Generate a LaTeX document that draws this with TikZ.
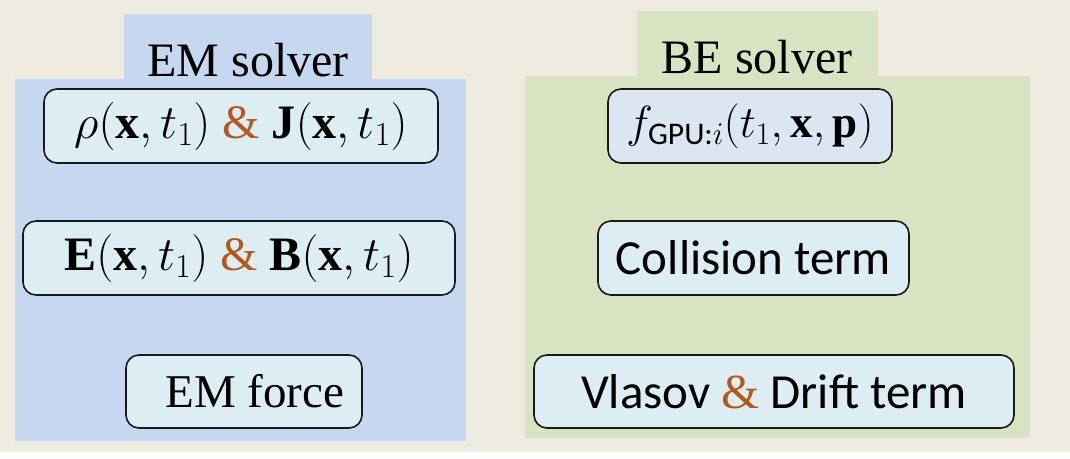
\RequirePackage{fix-cm}
\documentclass[tikz,border=0pt]{standalone}
\usepackage{amsmath}
\usepackage{fontspec}
\setmainfont{Liberation Serif}
\newfontfamily\termfont{Carlito}
\usetikzlibrary{positioning}
\definecolor{bgbeige}{HTML}{EEEBE0}
\definecolor{emblue}{HTML}{C6D8EF}
\definecolor{begreen}{HTML}{D8E4C1}
\definecolor{boxcyan}{HTML}{DCEEF4}
\definecolor{boxlav}{HTML}{DCE5F2}
\definecolor{ampbrown}{HTML}{B4581C}
\newcommand{\amp}{\textcolor{ampbrown}{\rmfamily\&}}

\begin{document}
\begin{tikzpicture}[x=1pt,y=-1pt,
    termbox/.style={draw=black!90, line width=1.6pt, rounded corners=13pt,
        fill=boxcyan, inner sep=0pt, minimum height=74pt},
    title/.style={font=\fontsize{48}{54}\selectfont, anchor=base},
    mathtext/.style={font=\fontsize{48}{54}\selectfont},
    serifterm/.style={font=\fontsize{47}{52}\selectfont},
    sansterm/.style={font=\termfont\fontsize{49}{54}\selectfont}]

\useasboundingbox (0,0) rectangle (1070,458);
\fill[bgbeige] (0,0) rectangle (1070,452);
\fill[white] (0,452) rectangle (1070,458);

% EM solver
\fill[emblue] (15,79) rectangle (466,441);
\fill[emblue] (124,14) rectangle (372,80);
\node[title] (emtitle) at (248,76) {EM solver};
\node[termbox, mathtext, minimum width=394pt] (rhoJ) at (241,126)
    {$\rho(\mathbf{x},t_1)$ \amp{} $\mathbf{J}(\mathbf{x},t_1)$};
\node[termbox, mathtext, minimum width=432pt] (EB) at (239,258)
    {$\mathbf{E}(\mathbf{x},t_1)$ \amp{} $\mathbf{B}(\mathbf{x},t_1)$};
\node[termbox, serifterm, minimum width=236pt, minimum height=73pt] (force) at (244,391.5)
    {\hspace{22pt}EM force};

% BE solver
\fill[begreen] (525,76) rectangle (1030,438);
\fill[begreen] (637,11) rectangle (878,77);
\node[title] (betitle) at (757,73) {BE solver};
\node[termbox, mathtext, font=\fontsize{45}{50}\selectfont, fill=boxlav,
    minimum width=284pt] (fgpu) at (750,126)
    {$f_{\text{\termfont GPU:}i}(t_1,\mathbf{x},\mathbf{p})$};
\node[termbox, sansterm, minimum width=311pt] (coll) at (753.5,258)
    {Collision term};
\node[termbox, sansterm, minimum width=480pt, minimum height=73pt] (vlasov) at (774,391.5)
    {Vlasov \amp{} Drift term};
\end{tikzpicture}
\end{document}
